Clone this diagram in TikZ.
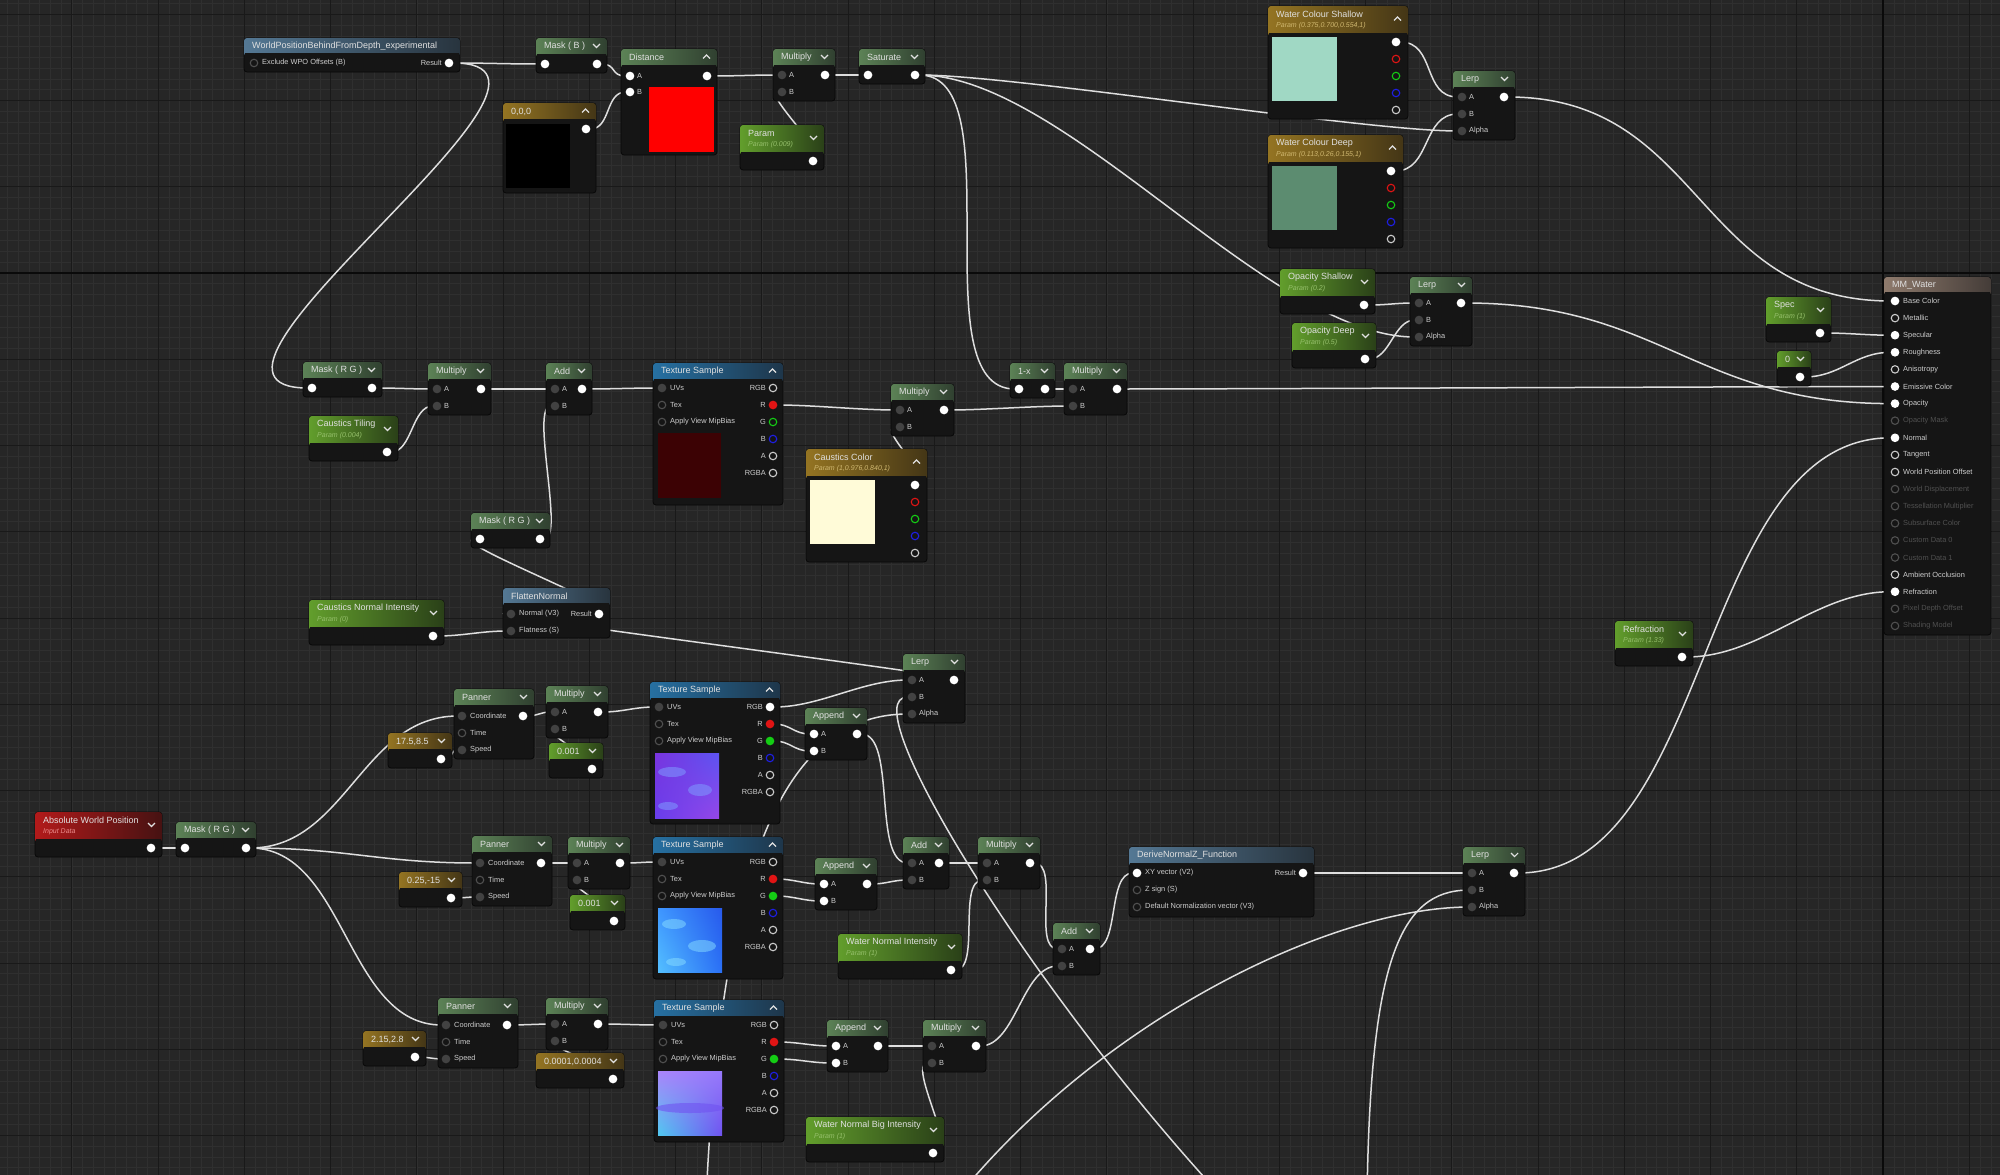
\documentclass[tikz,border=0pt]{standalone}
\usepackage{xcolor}
\usepackage{fontspec}
\setmainfont{Liberation Sans}
\usetikzlibrary{shadings}
\pgfdeclarelayer{grid}
\pgfdeclarelayer{wires}
\pgfsetlayers{grid,wires,main}
\definecolor{graph}{RGB}{38,38,38}
\definecolor{gridfine}{RGB}{47,47,47}
\definecolor{gridmajor}{RGB}{25,25,25}
\definecolor{gridaxis}{RGB}{10,10,10}
\definecolor{corpo}{RGB}{21,21,21}
\definecolor{borda}{RGB}{8,8,8}
\definecolor{fio}{RGB}{222,222,222}
\definecolor{texto}{RGB}{224,224,224}
\definecolor{rotulo}{RGB}{205,205,205}
\definecolor{apagado}{RGB}{80,80,80}
\definecolor{pinoff}{RGB}{66,66,66}
\definecolor{mathsL}{RGB}{92,130,86}
\definecolor{mathsR}{RGB}{48,64,48}
\definecolor{paramL}{RGB}{98,158,44}
\definecolor{paramR}{RGB}{42,64,24}
\definecolor{vecL}{RGB}{148,116,34}
\definecolor{vecR}{RGB}{68,54,22}
\definecolor{texL}{RGB}{38,112,162}
\definecolor{texR}{RGB}{30,54,74}
\definecolor{funcL}{RGB}{84,120,148}
\definecolor{funcR}{RGB}{40,52,62}
\definecolor{inL}{RGB}{178,26,26}
\definecolor{inR}{RGB}{70,18,18}
\definecolor{outL}{RGB}{142,122,108}
\definecolor{outR}{RGB}{68,60,56}
\definecolor{paramS}{RGB}{150,192,108}
\definecolor{vecS}{RGB}{208,184,112}
\definecolor{inS}{RGB}{236,140,140}
\definecolor{sockred}{RGB}{225,20,20}
\definecolor{sockgreen}{RGB}{20,205,20}
\definecolor{sockblue}{RGB}{30,30,230}
\definecolor{shallow}{RGB}{160,216,196}
\definecolor{deep}{RGB}{92,140,112}
\definecolor{caustic}{RGB}{255,251,216}
\definecolor{darkred}{RGB}{60,2,4}
\definecolor{nmA}{RGB}{122,52,222}
\definecolor{nmB}{RGB}{92,84,242}
\definecolor{nmC}{RGB}{104,62,236}
\definecolor{nmD}{RGB}{150,70,232}
\definecolor{nmE}{RGB}{126,154,255}
\definecolor{cyA}{RGB}{62,150,255}
\definecolor{cyB}{RGB}{40,90,236}
\definecolor{cyC}{RGB}{84,192,255}
\definecolor{cyD}{RGB}{42,112,246}
\definecolor{cyE}{RGB}{136,222,255}
\definecolor{lvA}{RGB}{170,132,250}
\definecolor{lvB}{RGB}{150,120,250}
\definecolor{lvC}{RGB}{80,200,240}
\definecolor{lvD}{RGB}{112,82,240}
\tikzset{
  nodebody/.style={draw=borda, fill=corpo, rounded corners=3pt, line width=0.8pt, inner sep=0pt, outer sep=0pt},
  hd-maths/.style={left color=mathsL, right color=mathsR},
  hd-param/.style={left color=paramL, right color=paramR},
  hd-vec/.style={left color=vecL, right color=vecR},
  hd-tex/.style={left color=texL, right color=texR},
  hd-func/.style={left color=funcL, right color=funcR},
  hd-in/.style={left color=inL, right color=inR},
  hd-out/.style={left color=outL, right color=outR},
  sb-param/.style={text=paramS},
  sb-vec/.style={text=vecS},
  sb-in/.style={text=inS},
  ttl/.style={anchor=west, inner sep=0pt, text=texto, font=\fontsize{9}{10}\selectfont},
  sub/.style={anchor=west, inner sep=0pt, font=\fontsize{7}{8}\selectfont\itshape},
  plab/.style={anchor=west, inner sep=0pt, text=rotulo, font=\fontsize{7.4}{8}\selectfont},
  chev/.style={draw=texto, line width=1.1pt},
  socket/.style={circle, inner sep=0pt, minimum size=7.5pt, line width=1.1pt},
  sk-w/.style={socket, fill=white, draw=white},
  sk-g/.style={socket, fill=pinoff, draw=pinoff},
  sk-o/.style={socket, fill=corpo, draw=rotulo},
  sk-d/.style={socket, fill=corpo, draw=apagado},
  sk-r/.style={socket, fill=corpo, draw=sockred},
  sk-rf/.style={socket, fill=sockred, draw=sockred},
  sk-gr/.style={socket, fill=corpo, draw=sockgreen},
  sk-grf/.style={socket, fill=sockgreen, draw=sockgreen},
  sk-b/.style={socket, fill=corpo, draw=sockblue},
  wire/.style={draw=fio, line width=1.5pt},
  link/.style={to path={.. controls +(#1,0) and +(-#1,0) .. (\tikztotarget)}},
  link/.default=40
}
\newcommand{\chevd}[2][8]{\draw[chev] ([shift={(-14,#1-2)}]#2.north east) -- ++(3.5,3.5) -- ++(3.5,-3.5);}
\newcommand{\chevu}[2][8]{\draw[chev] ([shift={(-14,#1+1.5)}]#2.north east) -- ++(3.5,-3.5) -- ++(3.5,3.5);}
\newcommand{\uebase}[8]{%
  \node[nodebody, minimum width=#4, minimum height=#5, anchor=north west] (#1) at (#2,#3) {};
  \shade[hd-#6, rounded corners=3] (#2,#3) rectangle ++(#4,#8+3);
  \fill[corpo] (#2+0.6,#3+#8) rectangle ++(#4-1.2,3.5);
  \node[ttl] at (#2+8,#3+8.5) {#7};}
\newcommand{\mathnode}[6]{%
  \uebase{#1}{#2}{#3}{#4}{52}{maths}{#5}{16}
  \node[#6] (#1-a) at (#2+9,#3+26) {}; \node[plab] at (#2+16,#3+26) {A};
  \node[#6] (#1-b) at (#2+9,#3+43) {}; \node[plab] at (#2+16,#3+43) {B};
  \node[sk-w] (#1-o) at (#2+#4-10,#3+26) {};
  \chevd{#1}}
\newcommand{\masknode}[5]{%
  \uebase{#1}{#2}{#3}{#4}{35}{maths}{#5}{16}
  \node[sk-w] (#1-i) at (#2+9,#3+26) {};
  \node[sk-w] (#1-o) at (#2+#4-10,#3+26) {};
  \chevd{#1}}
\newcommand{\lerpnode}[3]{%
  \uebase{#1}{#2}{#3}{62}{69}{maths}{Lerp}{16}
  \node[sk-g] (#1-a) at (#2+9,#3+26) {}; \node[plab] at (#2+16,#3+26) {A};
  \node[sk-g] (#1-b) at (#2+9,#3+43) {}; \node[plab] at (#2+16,#3+43) {B};
  \node[sk-g] (#1-al) at (#2+9,#3+60) {}; \node[plab] at (#2+16,#3+60) {Alpha};
  \node[sk-w] (#1-o) at (#2+51,#3+26) {};
  \chevd{#1}}
\newcommand{\pannode}[3]{%
  \uebase{#1}{#2}{#3}{80}{70}{maths}{Panner}{16}
  \node[sk-g] (#1-c) at (#2+8,#3+27) {}; \node[plab] at (#2+16,#3+27) {Coordinate};
  \node[sk-d] (#1-t) at (#2+8,#3+44) {}; \node[plab] at (#2+16,#3+44) {Time};
  \node[sk-g] (#1-s) at (#2+8,#3+61) {}; \node[plab] at (#2+16,#3+61) {Speed};
  \node[sk-w] (#1-o) at (#2+69,#3+27) {};
  \chevd{#1}}
\newcommand{\constnode}[6]{%
  \uebase{#1}{#2}{#3}{#4}{35}{#5}{#6}{16}
  \node[sk-w] (#1-o) at (#2+#4-11,#3+26) {};
  \chevd{#1}}
\newcommand{\paramnode}[7]{%
  \uebase{#1}{#2}{#3}{#4}{45}{#5}{#6}{27}
  \node[sub, sb-#5] at (#2+8,#3+20) {#7};
  \node[sk-w] (#1-o) at (#2+#4-11,#3+36) {};
  \chevd[13]{#1}}
\newcommand{\colournode}[7]{%
  \uebase{#1}{#2}{#3}{#4}{113}{vec}{#5}{27}
  \node[sub, sb-vec] at (#2+8,#3+20) {#6};
  \fill[#7] (#2+4,#3+31) rectangle ++(65,64);
  \node[sk-w] (#1-o) at (#2+#4-12,#3+36) {};
  \node[sk-r] (#1-r) at (#2+#4-12,#3+53) {};
  \node[sk-gr] (#1-g) at (#2+#4-12,#3+70) {};
  \node[sk-b] (#1-bl) at (#2+#4-12,#3+87) {};
  \node[sk-o] (#1-al) at (#2+#4-12,#3+104) {};
  \chevu[13]{#1}}
\newcommand{\texnode}[5]{%
  \uebase{#1}{#2}{#3}{130}{142}{tex}{Texture Sample}{16}
  \node[sk-g] (#1-uv) at (#2+9,#3+25) {}; \node[plab] at (#2+17,#3+25) {UVs};
  \node[sk-d] (#1-tx) at (#2+9,#3+42) {}; \node[plab] at (#2+17,#3+42) {Tex};
  \node[sk-d] (#1-mb) at (#2+9,#3+59) {}; \node[plab] at (#2+17,#3+59) {Apply View MipBias};
  \node[#4] (#1-rgb) at (#2+120,#3+25) {}; \node[plab, anchor=east] at (#2+113,#3+25) {RGB};
  \node[sk-rf] (#1-r) at (#2+120,#3+42) {}; \node[plab, anchor=east] at (#2+113,#3+42) {R};
  \node[#5] (#1-g) at (#2+120,#3+59) {}; \node[plab, anchor=east] at (#2+113,#3+59) {G};
  \node[sk-b] (#1-bl) at (#2+120,#3+76) {}; \node[plab, anchor=east] at (#2+113,#3+76) {B};
  \node[sk-o] (#1-al) at (#2+120,#3+93) {}; \node[plab, anchor=east] at (#2+113,#3+93) {A};
  \node[sk-o] (#1-rgba) at (#2+120,#3+110) {}; \node[plab, anchor=east] at (#2+113,#3+110) {RGBA};
  \chevu{#1}}

\begin{document}
\begin{tikzpicture}[x=1pt, y=-1pt]
        \useasboundingbox (0,0) rectangle (2000,1175);
        \begin{pgfonlayer}{grid}
          \fill[graph] (0,0) rectangle (2000,1175);
          \foreach \i in {-11,...,175} \draw[gridfine, line width=0.6pt] ({1883-\i*10.78},0) -- ++(0,1175);
          \foreach \j in {-25,...,84} \draw[gridfine, line width=0.6pt] (0,{273+\j*10.78}) -- ++(2000,0);
          \foreach \i in {-1,...,21} \draw[gridmajor, line width=1pt] ({1883-\i*86.25},0) -- ++(0,1175);
          \foreach \j in {-3,...,10} \draw[gridmajor, line width=1pt] (0,{273+\j*86.25}) -- ++(2000,0);
          \draw[gridaxis, line width=1.6pt] (1883,0) -- ++(0,1175) (0,273) -- ++(2000,0);
        \end{pgfonlayer}

        % depth fade
        \uebase{wpbd}{244}{38}{216}{34}{func}{WorldPositionBehindFromDepth\_experimental}{15}
        \node[sk-d] (wpbd-i) at (254,63) {}; \node[plab] at (262,63) {Exclude WPO Offsets (B)};
        \node[sk-w] (wpbd-o) at (449,63) {}; \node[plab, anchor=east] at (442,63) {Result};
        \masknode{maskb}{536}{38}{71}{Mask ( B )}
        \uebase{dist}{621}{49}{96}{106}{maths}{Distance}{16}
        \node[sk-w] (dist-a) at (630,76) {}; \node[plab] at (637,76) {A};
        \node[sk-w] (dist-b) at (630,92) {}; \node[plab] at (637,92) {B};
        \node[sk-w] (dist-o) at (707,76) {};
        \fill[red] (649,87) rectangle (714,152);
        \chevu{dist}
        \uebase{c000}{503}{103}{93}{90}{vec}{0,0,0}{16}
        \fill[black] (506,124) rectangle (570,188);
        \node[sk-w] (c000-o) at (586,129) {};
        \chevu{c000}
        \mathnode{mul0}{773}{49}{62}{Multiply}{sk-g}
        \masknode{sat}{859}{49}{66}{Saturate}
        \paramnode{par}{740}{125}{84}{param}{Param}{Param (0.009)}

        % colour and opacity
        \colournode{wcs}{1268}{6}{140}{Water Colour Shallow}{Param (0.375,0.700,0.554,1)}{shallow}
        \colournode{wcd}{1268}{135}{135}{Water Colour Deep}{Param (0.113,0.26,0.155,1)}{deep}
        \lerpnode{lerp1}{1453}{71}
        \paramnode{ops}{1280}{269}{95}{param}{Opacity Shallow}{Param (0.2)}
        \paramnode{opd}{1292}{323}{84}{param}{Opacity Deep}{Param (0.5)}
        \lerpnode{lerp2}{1410}{277}
        \paramnode{spec}{1766}{297}{65}{param}{Spec}{Param (1)}
        \constnode{zero}{1777}{351}{34}{param}{0}
        \paramnode{refr}{1615}{621}{78}{param}{Refraction}{Param (1.33)}

        % material result
        \uebase{mm}{1884}{277}{107}{358}{out}{MM\_Water}{15}
        \foreach \lab/\st/\tc [count=\i from 0] in {Base Color/sk-w/rotulo, Metallic/sk-o/rotulo, Specular/sk-w/rotulo, Roughness/sk-w/rotulo, Anisotropy/sk-o/rotulo, Emissive Color/sk-w/rotulo, Opacity/sk-w/rotulo, Opacity Mask/sk-d/apagado, Normal/sk-w/rotulo, Tangent/sk-o/rotulo, World Position Offset/sk-o/rotulo, World Displacement/sk-d/apagado, Tessellation Multiplier/sk-d/apagado, Subsurface Color/sk-d/apagado, Custom Data 0/sk-d/apagado, Custom Data 1/sk-d/apagado, Ambient Occlusion/sk-o/rotulo, Refraction/sk-w/rotulo, Pixel Depth Offset/sk-d/apagado, Shading Model/sk-d/apagado}
          {\node[\st] (mm-\i) at (1895,{301+17.1*\i}) {};
           \node[plab, text=\tc] at (1903,{301+17.1*\i}) {\lab};}

        % caustics
        \masknode{maskrg1}{303}{362}{79}{Mask ( R G )}
        \paramnode{ctil}{309}{416}{89}{param}{Caustics Tiling}{Param (0.004)}
        \mathnode{mul1}{428}{363}{63}{Multiply}{sk-g}
        \mathnode{add1}{546}{363}{46}{Add}{sk-g}
        \texnode{tex1}{653}{363}{sk-o}{sk-gr}
        \fill[darkred] (658,433) rectangle ++(63,65);
        \mathnode{mul2}{891}{384}{63}{Multiply}{sk-g}
        \colournode{ccol}{806}{449}{121}{Caustics Color}{Param (1,0.976,0.840,1)}{caustic}
        \masknode{onex}{1010}{363}{45}{1-x}
        \mathnode{mul3}{1064}{363}{63}{Multiply}{sk-g}
        \masknode{maskrg2}{471}{513}{79}{Mask ( R G )}
        \uebase{flat}{503}{588}{107}{50}{func}{FlattenNormal}{15}
        \node[sk-g] (flat-n) at (511,614) {}; \node[plab] at (519,614) {Normal (V3)};
        \node[sk-g] (flat-f) at (511,631) {}; \node[plab] at (519,631) {Flatness (S)};
        \node[sk-w] (flat-o) at (599,614) {}; \node[plab, anchor=east] at (592,614) {Result};
        \paramnode{cni}{309}{600}{135}{param}{Caustics Normal Intensity}{Param (0)}
        \lerpnode{lerp3}{903}{654}

        % water normals
        \paramnode{awp}{35}{812}{127}{in}{Absolute World Position}{Input Data}
        \masknode{maskrg3}{176}{822}{80}{Mask ( R G )}
        \pannode{pan1}{454}{689}
        \constnode{v175}{388}{733}{64}{vec}{17.5,8.5}
        \mathnode{mul4}{546}{686}{62}{Multiply}{sk-g}
        \constnode{c001a}{549}{743}{54}{param}{0.001}
        \texnode{tex2}{650}{682}{sk-w}{sk-grf}
        \shade[upper left=nmA, upper right=nmB, lower left=nmC, lower right=nmD] (655,753) rectangle ++(64,65);
        \fill[nmE, opacity=0.55] (672,772) ellipse (14 and 5) (700,790) ellipse (12 and 6) (668,806) ellipse (10 and 4);
        \mathnode{app1}{805}{708}{62}{Append}{sk-w}
        \pannode{pan2}{472}{836}
        \constnode{v025}{399}{872}{63}{vec}{0.25,-15}
        \mathnode{mul5}{568}{837}{62}{Multiply}{sk-g}
        \constnode{c001b}{570}{895}{55}{param}{0.001}
        \texnode{tex3}{653}{837}{sk-o}{sk-grf}
        \shade[upper left=cyA, upper right=cyB, lower left=cyC, lower right=cyD] (658,908) rectangle ++(64,64);
        \fill[cyE, opacity=0.5] (674,924) ellipse (12 and 5) (702,946) ellipse (14 and 6) (676,962) ellipse (10 and 4);
        \mathnode{app2}{815}{858}{62}{Append}{sk-w}
        \mathnode{add2}{903}{837}{46}{Add}{sk-g}
        \mathnode{mul6}{978}{837}{62}{Multiply}{sk-g}
        \paramnode{wni}{838}{934}{124}{param}{Water Normal Intensity}{Param (1)}
        \mathnode{add3}{1053}{923}{47}{Add}{sk-g}
        \uebase{dnz}{1129}{847}{185}{70}{func}{DeriveNormalZ\_Function}{16}
        \node[sk-w] (dnz-xy) at (1137,873) {}; \node[plab] at (1145,873) {XY vector (V2)};
        \node[sk-d] (dnz-z) at (1137,890) {}; \node[plab] at (1145,890) {Z sign (S)};
        \node[sk-d] (dnz-dn) at (1137,907) {}; \node[plab] at (1145,907) {Default Normalization vector (V3)};
        \node[sk-w] (dnz-o) at (1303,873) {}; \node[plab, anchor=east] at (1296,873) {Result};
        \lerpnode{lerp4}{1463}{847}
        \pannode{pan3}{438}{998}
        \constnode{v215}{363}{1031}{63}{vec}{2.15,2.8}
        \mathnode{mul7}{546}{998}{62}{Multiply}{sk-g}
        \constnode{v0001}{536}{1053}{88}{vec}{0.0001,0.0004}
        \texnode{tex4}{654}{1000}{sk-o}{sk-grf}
        \shade[upper left=lvA, upper right=lvB, lower left=lvC, lower right=lvD] (658,1071) rectangle ++(64,64);
        \fill[lvD, opacity=0.6] (690,1108) ellipse (34 and 5);
        \mathnode{app3}{827}{1020}{61}{Append}{sk-w}
        \mathnode{mul8}{923}{1020}{63}{Multiply}{sk-g}
        \paramnode{wnbi}{806}{1117}{138}{param}{Water Normal Big Intensity}{Param (1)}

        \coordinate (off-a) at (706,1200);
        \coordinate (off-b) at (1225,1200);
        \coordinate (off-c) at (955,1200);
        \coordinate (off-d) at (1367,1200);

        \begin{pgfonlayer}{wires}
          \draw[wire] (wpbd-o) to[link=40] (maskb-i);
          \draw[wire] (wpbd-o) to[link=170] (maskrg1-i);
          \draw[wire] (maskb-o) to[link=20] (dist-a);
          \draw[wire] (c000-o) to[link=25] (dist-b);
          \draw[wire] (dist-o) to[link=30] (mul0-a);
          \draw[wire] (par-o) to[link=20] (mul0-b);
          \draw[wire] (mul0-o) to[link=20] (sat-i);
          \draw[wire] (sat-o) to[link=100] (lerp1-al);
          \draw[wire] (sat-o) to[link=150] (lerp2-al);
          \draw[wire] (sat-o) to[link=100] (onex-i);
          \draw[wire] (wcs-o) to[link=40] (lerp1-a);
          \draw[wire] (wcd-o) to[link=40] (lerp1-b);
          \draw[wire] (lerp1-o) to[link=200] (mm-0);
          \draw[wire] (ops-o) to[link=25] (lerp2-a);
          \draw[wire] (opd-o) to[link=25] (lerp2-b);
          \draw[wire] (lerp2-o) to[link=200] (mm-6);
          \draw[wire] (spec-o) to[link=30] (mm-2);
          \draw[wire] (zero-o) to[link=40] (mm-3);
          \draw[wire] (mul3-o) to[link=100] (mm-5);
          \draw[wire] (refr-o) to[link=80] (mm-17);
          \draw[wire] (lerp4-o) to[link=200] (mm-8);
          \draw[wire] (maskrg1-o) to[link=25] (mul1-a);
          \draw[wire] (ctil-o) to[link=25] (mul1-b);
          \draw[wire] (mul1-o) to[link=30] (add1-a);
          \draw[wire] (maskrg2-o) to[link=25] (add1-b);
          \draw[wire] (add1-o) to[link=30] (tex1-uv);
          \draw[wire] (tex1-r) to[link=40] (mul2-a);
          \draw[wire] (ccol-o) to[link=25] (mul2-b);
          \draw[wire] (mul2-o) to[link=40] (mul3-b);
          \draw[wire] (onex-o) to[link=15] (mul3-a);
          \draw[wire] (flat-o) to[link=40] (maskrg2-i);
          \draw[wire] (cni-o) to[link=30] (flat-f);
          \draw[wire] (lerp3-o) to[link=40] (flat-n);
          \draw[wire] (tex2-rgb) to[link=50] (lerp3-a);
          \draw[wire] (off-b) .. controls (1030,990) and (850,697) .. (lerp3-b);
          \draw[wire] (off-a) .. controls (720,900) and (770,714) .. (lerp3-al);
          \draw[wire] (tex2-r) to[link=20] (app1-a);
          \draw[wire] (tex2-g) to[link=20] (app1-b);
          \draw[wire] (app1-o) to[link=40] (add2-a);
          \draw[wire] (awp-o) to[link=15] (maskrg3-i);
          \draw[wire] (maskrg3-o) to[link=100] (pan1-c);
          \draw[wire] (maskrg3-o) to[link=100] (pan2-c);
          \draw[wire] (maskrg3-o) to[link=100] (pan3-c);
          \draw[wire] (v175-o) to[link=12] (pan1-s);
          \draw[wire] (pan1-o) to[link=15] (mul4-a);
          \draw[wire] (c001a-o) to[link=15] (mul4-b);
          \draw[wire] (mul4-o) to[link=25] (tex2-uv);
          \draw[wire] (v025-o) to[link=12] (pan2-s);
          \draw[wire] (pan2-o) to[link=15] (mul5-a);
          \draw[wire] (c001b-o) to[link=15] (mul5-b);
          \draw[wire] (mul5-o) to[link=20] (tex3-uv);
          \draw[wire] (tex3-r) to[link=20] (app2-a);
          \draw[wire] (tex3-g) to[link=20] (app2-b);
          \draw[wire] (app2-o) to[link=20] (add2-b);
          \draw[wire] (add2-o) to[link=20] (mul6-a);
          \draw[wire] (wni-o) to[link=30] (mul6-b);
          \draw[wire] (mul6-o) to[link=30] (add3-a);
          \draw[wire] (mul8-o) to[link=40] (add3-b);
          \draw[wire] (add3-o) to[link=30] (dnz-xy);
          \draw[wire] (dnz-o) to[link=50] (lerp4-a);
          \draw[wire] (off-d) .. controls (1370,960) and (1400,891) .. (lerp4-b);
          \draw[wire] (off-c) .. controls (1100,1020) and (1330,908) .. (lerp4-al);
          \draw[wire] (v215-o) to[link=12] (pan3-s);
          \draw[wire] (pan3-o) to[link=15] (mul7-a);
          \draw[wire] (v0001-o) to[link=15] (mul7-b);
          \draw[wire] (mul7-o) to[link=25] (tex4-uv);
          \draw[wire] (tex4-r) to[link=25] (app3-a);
          \draw[wire] (tex4-g) to[link=25] (app3-b);
          \draw[wire] (app3-o) to[link=20] (mul8-a);
          \draw[wire] (wnbi-o) to[link=25] (mul8-b);
        \end{pgfonlayer}
\end{tikzpicture}
\end{document}
